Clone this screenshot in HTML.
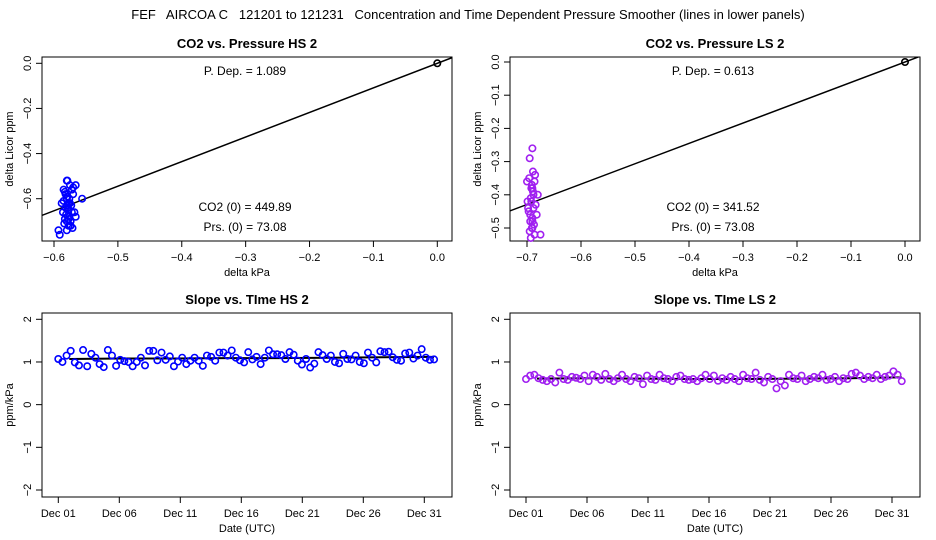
<!DOCTYPE html>
<html><head><meta charset="utf-8"><style>
body{margin:0;background:#fff;}
svg{display:block;font-family:"Liberation Sans",sans-serif;}
</style></head><body>
<svg id="c" width="936" height="540" viewBox="0 0 936 540">
<text x="468" y="19" font-size="13" text-anchor="middle" style="white-space:pre" xml:space="preserve">FEF   AIRCOA C   121201 to 121231   Concentration and Time Dependent Pressure Smoother (lines in lower panels)</text>
</svg>
<script>
// ---- data ----
const hsPressX = [-0.58,-0.575,-0.585,-0.57,-0.58,-0.578,-0.582,-0.572,-0.588,-0.576,-0.58,-0.574,-0.583,-0.57,-0.566,-0.578,-0.585,-0.579,-0.573,-0.581,-0.577,-0.584,-0.571,-0.568,-0.58,-0.576,-0.582,-0.575,-0.578,-0.586,-0.574,-0.579,-0.593,-0.591,-0.556,-0.566,-0.58,-0.572,-0.583,-0.577];
const hsPressY = [-0.52,-0.54,-0.56,-0.58,-0.6,-0.62,-0.64,-0.66,-0.62,-0.68,-0.7,-0.72,-0.57,-0.55,-0.54,-0.65,-0.61,-0.59,-0.63,-0.67,-0.69,-0.71,-0.73,-0.66,-0.74,-0.6,-0.58,-0.62,-0.64,-0.66,-0.7,-0.52,-0.74,-0.76,-0.6,-0.68,-0.63,-0.56,-0.69,-0.72];
const hsOriginX = [0.0]; const hsOriginY = [0.0];
const hsSlope = 1.089;
const lsPressX = [-0.69,-0.695,-0.685,-0.7,-0.69,-0.688,-0.692,-0.698,-0.682,-0.694,-0.69,-0.686,-0.696,-0.691,-0.689,-0.693,-0.684,-0.697,-0.69,-0.687,-0.695,-0.68,-0.692,-0.688,-0.699,-0.694,-0.686,-0.69,-0.691,-0.675,-0.693,-0.689];
const lsPressY = [-0.26,-0.29,-0.34,-0.36,-0.38,-0.4,-0.42,-0.44,-0.46,-0.48,-0.5,-0.52,-0.35,-0.37,-0.39,-0.41,-0.43,-0.45,-0.47,-0.49,-0.51,-0.4,-0.38,-0.44,-0.42,-0.46,-0.36,-0.48,-0.5,-0.52,-0.53,-0.33];
const lsSlope = 0.613;
const hsSlopeT = [1.07,1.0,1.15,1.26,0.99,0.92,1.28,0.9,1.19,1.1,0.95,0.88,1.28,1.15,0.91,1.05,1.02,1.0,0.9,1.0,1.1,0.92,1.26,1.26,1.04,1.22,1.05,1.13,0.9,1.01,1.1,0.95,1.03,1.1,1.03,0.91,1.15,1.12,1.03,1.22,1.22,1.15,1.27,1.1,1.04,0.99,1.23,1.06,1.12,0.95,1.1,1.27,1.18,1.18,1.16,1.07,1.23,1.17,1.03,0.94,1.07,0.87,0.96,1.23,1.16,1.07,1.15,1.0,0.97,1.19,1.07,1.06,1.15,1.0,0.97,1.22,1.1,0.99,1.25,1.23,1.24,1.11,1.05,1.03,1.2,1.22,1.08,1.15,1.3,1.1,1.05,1.06];
const hsSmooth = [1.07,1.08,1.08,1.09,1.09,1.1,1.11,1.12];
const lsSlopeT = [0.6,0.68,0.7,0.62,0.58,0.55,0.6,0.52,0.75,0.6,0.58,0.65,0.63,0.6,0.68,0.55,0.7,0.65,0.58,0.72,0.6,0.55,0.62,0.7,0.6,0.55,0.65,0.62,0.48,0.68,0.6,0.58,0.7,0.62,0.6,0.55,0.65,0.68,0.6,0.58,0.6,0.55,0.62,0.7,0.6,0.68,0.56,0.62,0.58,0.65,0.6,0.55,0.7,0.62,0.6,0.75,0.58,0.52,0.65,0.6,0.38,0.55,0.45,0.7,0.62,0.6,0.68,0.55,0.6,0.65,0.62,0.7,0.58,0.6,0.65,0.55,0.62,0.6,0.72,0.75,0.68,0.6,0.65,0.62,0.7,0.6,0.65,0.68,0.78,0.7,0.55];
const lsSmooth = [0.61,0.62,0.61,0.6,0.6,0.61,0.62,0.64];
const dateTicks = ["Dec 01","Dec 06","Dec 11","Dec 16","Dec 21","Dec 26","Dec 31"];
const dateTickDays = [0,5,10,15,20,25,30];
const hsXTicks = [-0.6,-0.5,-0.4,-0.3,-0.2,-0.1,0.0];
const hsYTicks = [0.0,-0.2,-0.4,-0.6];
const lsXTicks = [-0.7,-0.6,-0.5,-0.4,-0.3,-0.2,-0.1,0.0];
const lsYTicks = [0.0,-0.1,-0.2,-0.3,-0.4,-0.5];
const slopeYTicks = [2,1,0,-1,-2];

const NS="http://www.w3.org/2000/svg", svg=document.getElementById('c');
function mk(t,a,p){const e=document.createElementNS(NS,t);for(const k in a)e.setAttribute(k,a[k]);(p||svg).appendChild(e);return e;}
function lin(d0,d1,r0,r1){return v=>r0+(v-d0)*(r1-r0)/(d1-d0);}
function fmt(v){return (v<0?'\u2212':'')+Math.abs(v).toFixed(1);}

function panel(o){
  const g=mk('g',{});
  
  
  const t=mk('text',{x:(o.x0+o.x1)/2,y:o.y0-9,'font-size':13,'font-weight':'bold','text-anchor':'middle'},g);t.textContent=o.title;
  
  
  const box=mk('rect',{x:o.x0,y:o.y0,width:o.x1-o.x0,height:o.y1-o.y0,fill:'none',stroke:'#000'},g);
  
  
  o.xt.forEach((v,i)=>{const x=o.X(v);mk('line',{x1:x,x2:x,y1:o.y1,y2:o.y1+6,stroke:'#000'},g);
    const tt=mk('text',{x:x,y:o.y1+20,'font-size':11,'text-anchor':'middle'},g);tt.textContent=o.xl[i];
    
    });
  o.yt.forEach((v,i)=>{const y=o.Y(v);mk('line',{x1:o.x0-6,x2:o.x0,y1:y,y2:y,stroke:'#000'},g);
    const tt=mk('text',{x:0,y:0,'font-size':11,'text-anchor':'middle',transform:`translate(${o.x0-11},${y}) rotate(-90)`},g);tt.textContent=o.yl[i];
    
    });
  const xt=mk('text',{x:(o.x0+o.x1)/2,y:o.y1+35,'font-size':11,'text-anchor':'middle'},g);xt.textContent=o.xlab;
  
  
  const yt=mk('text',{x:0,y:0,'font-size':11,'text-anchor':'middle',transform:`translate(${o.x0-29},${(o.y0+o.y1)/2}) rotate(-90)`},g);yt.textContent=o.ylab;
  
  
  return g;
}
function pts(g,xs,ys,X,Y,col){xs.forEach((v,i)=>{const c=mk('circle',{cx:X(v),cy:Y(ys[i]),r:3.2,fill:'none',stroke:col,'stroke-width':1.6},g);
  
  });}
function txt(g,x,y,s,name){const t=mk('text',{x:x,y:y,'font-size':12,'text-anchor':'middle'},g);t.textContent=s;
  
  }

(function(){
  const x0=42,x1=452,y0=57,y1=241;
  const X=lin(-0.6,0,54,437.3), Y=lin(0,-0.6,63.3,198.7);
  const g=panel({name:'hs-pressure-panel',title:'CO2 vs. Pressure HS 2',x0,x1,y0,y1,X,Y,xt:hsXTicks,xl:hsXTicks.map(fmt),yt:hsYTicks,yl:hsYTicks.map(fmt),xlab:'delta kPa',ylab:'delta Licor ppm'});
  const cp=mk('clipPath',{id:'c1'},g);mk('rect',{x:x0,y:y0,width:x1-x0,height:y1-y0},cp);
  const ln=mk('line',{x1:X(-0.7),y1:Y(-0.7*hsSlope),x2:X(0.1),y2:Y(0.1*hsSlope),stroke:'#000','stroke-width':1.5,'clip-path':'url(#c1)'},g);
  
  
  pts(g,hsPressX,hsPressY,X,Y,'#00f');
  pts(g,hsOriginX,hsOriginY,X,Y,'#000');
  txt(g,245,75,'P. Dep. =  1.089','p-dep-label');
  txt(g,245,211,'CO2 (0) =  449.89','co2-zero-label');
  txt(g,245,231,'Prs. (0) =  73.08','prs-zero-label');
})();
(function(){
  const x0=510,x1=920,y0=57,y1=241;
  const X=lin(-0.7,0,527,905), Y=lin(0,-0.5,62,228);
  const g=panel({name:'ls-pressure-panel',title:'CO2 vs. Pressure LS 2',x0,x1,y0,y1,X,Y,xt:lsXTicks,xl:lsXTicks.map(fmt),yt:lsYTicks,yl:lsYTicks.map(fmt),xlab:'delta kPa',ylab:'delta Licor ppm'});
  const cp=mk('clipPath',{id:'c2'},g);mk('rect',{x:x0,y:y0,width:x1-x0,height:y1-y0},cp);
  const ln=mk('line',{x1:X(-0.8),y1:Y(-0.8*lsSlope),x2:X(0.1),y2:Y(0.1*lsSlope),stroke:'#000','stroke-width':1.5,'clip-path':'url(#c2)'},g);
  
  
  pts(g,lsPressX,lsPressY,X,Y,'#a020f0');
  pts(g,hsOriginX,hsOriginY,X,Y,'#000');
  txt(g,713,75,'P. Dep. =  0.613','p-dep-label');
  txt(g,713,211,'CO2 (0) =  341.52','co2-zero-label');
  txt(g,713,231,'Prs. (0) =  73.08','prs-zero-label');
})();
function slopePanel(name,title,x0,d0,d31,vals,smooth,col){
  const x1=x0+410,y0=313,y1=497;
  const X=lin(0,30,d0,d31), Y=lin(2,-2,319.3,490);
  const g=panel({name,title,x0,x1,y0,y1,X,Y,xt:dateTickDays,xl:dateTicks,yt:slopeYTicks,yl:slopeYTicks.map(v=>(v<0?'\u2212':'')+Math.abs(v)),xlab:'Date (UTC)',ylab:'ppm/kPa'});
  const n=vals.length, span=30.8;
  const sm=smooth.map((v,i)=>X(0.9+i*(span-0.9)/(smooth.length-1))+','+Y(v)).join(' ');
  const pl=mk('polyline',{points:sm,fill:'none',stroke:'#000','stroke-width':2},g);
  
  
  pts(g,vals.map((v,i)=>i*span/(n-1)),vals,X,Y,col);
}
slopePanel('hs-slope-panel','Slope vs. TIme HS 2',42,58.3,424.3,hsSlopeT,hsSmooth,'#00f');
slopePanel('ls-slope-panel','Slope vs. TIme LS 2',510,526,892,lsSlopeT,lsSmooth,'#a020f0');
</script>
</body></html>
